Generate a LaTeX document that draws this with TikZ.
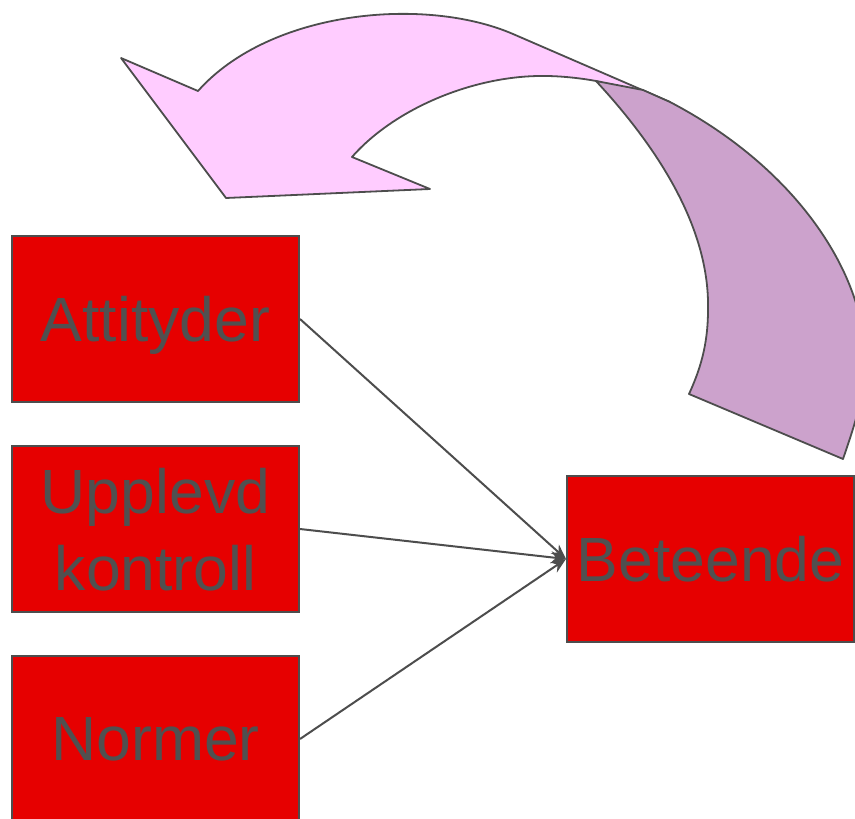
\documentclass[tikz,border=0pt]{standalone}
\usepackage{fontspec}
\setmainfont{Liberation Sans}
\usetikzlibrary{arrows.meta}
\definecolor{boxred}{RGB}{230,0,0}
\definecolor{edgegray}{RGB}{77,77,77}
\definecolor{txtgray}{RGB}{80,80,80}
\definecolor{pinkface}{RGB}{255,204,255}
\definecolor{purpleside}{RGB}{204,162,204}
\tikzset{
  redbox/.style={draw=edgegray, line width=2pt, fill=boxred, text=txtgray,
    minimum width=287pt, minimum height=166pt, inner sep=0pt, text depth=0pt,
    align=center, font=\fontsize{62.5}{77}\selectfont},
  conn/.style={draw=edgegray, line width=2pt, -{Stealth[length=15pt,width=12pt]}},
  arrowpart/.style={draw=edgegray, line width=1.8pt, line join=round}
}
\begin{document}
\begin{tikzpicture}[x=1pt,y=-1pt]
\useasboundingbox (0,0) rectangle (855,819);
\begin{scope}
\clip (0,0) rectangle (855,819);
% pink front face of the curved arrow
\path[arrowpart, fill=pinkface]
  (121,58) -- (198,91)
  .. controls (270,10) and (425,-4) .. (513,34)
  -- (670,102) -- (596,81)
  .. controls (580,78) and (560,76) .. (545,76)
  .. controls (475,75) and (395,108) .. (352,157)
  -- (430,189) -- (226,198) -- cycle;
% purple side of the curved arrow
\path[arrowpart, fill=purpleside]
  (596,81)
  .. controls (660,150) and (710,230) .. (708,310)
  .. controls (708,345) and (700,370) .. (689,394)
  -- (843,459)
  .. controls (853,430) and (863,400) .. (865,370)
  .. controls (870,280) and (800,170) .. (670,102)
  -- (643,90) -- cycle;
% boxes
\node[redbox] (att) at (155.5,319) {Attityder};
\node[redbox] (upp) at (155.5,529) {Upplevd\\kontroll};
\node[redbox] (nor) at (155.5,739) {Normer};
\node[redbox] (bet) at (710.5,559) {Beteende};
\end{scope}
% connectors
\draw[conn] (att.east) -- (bet.west);
\draw[conn] (upp.east) -- (bet.west);
\draw[conn] (nor.east) -- (bet.west);
\end{tikzpicture}
\end{document}
